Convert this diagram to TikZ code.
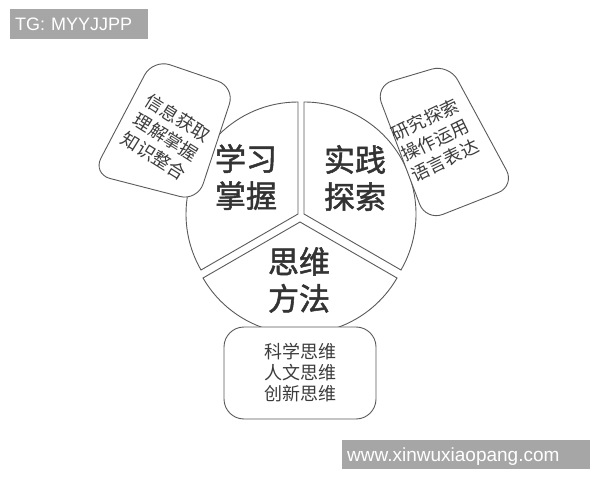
\documentclass[tikz,border=0pt]{standalone}
\usepackage{fontspec}
\setmainfont{Liberation Sans}
\newfontfamily\cjk{Noto Sans CJK SC}
\newfontfamily\cjkb[FakeBold=1.6]{Noto Sans CJK SC}
\definecolor{linegray}{HTML}{5A5A5A}
\definecolor{textdark}{HTML}{333333}
\definecolor{textmid}{HTML}{3C3C3C}
\definecolor{bannergray}{HTML}{A6A6A6}
\begin{document}
\begin{tikzpicture}[x=1pt,y=1pt,
  sector/.style={draw=linegray, line width=0.9pt, fill=white},
  sidebox/.style={draw=linegray, line width=0.9pt, fill=white, rounded corners=18pt},
  bigtxt/.style={font=\cjkb\fontsize{31}{37}\selectfont, text=textdark, align=center, inner sep=0pt},
  smalltxt/.style={font=\cjk\fontsize{18}{22.5}\selectfont, text=textmid, align=center, inner sep=0pt},
  banner/.style={fill=bannergray, text=white, align=left, inner ysep=0pt, inner xsep=5pt, anchor=south west}]
\useasboundingbox (0,0) rectangle (600,480);
% banners
\node (tg) [banner, font=\fontsize{18}{20}\selectfont, text height=13pt, text depth=0pt,
  minimum height=30pt, text width=128pt] at (10,441) {TG: MYYJJPP};
\node (www) [banner, font=\fontsize{19}{21}\selectfont, text height=13.6pt, text depth=0pt,
  minimum height=29pt, text width=238pt] at (342,11) {www.xinwuxiaopang.com};
% pie sectors
\draw[sector] (298,266) -- ++(90:112) arc[start angle=90, end angle=210, radius=112] -- cycle;
\draw[sector] (304,266) -- ++(-30:112) arc[start angle=-30, end angle=90, radius=112] -- cycle;
\draw[sector] (300,258) -- ++(210:112) arc[start angle=210, end angle=330, radius=112] -- cycle;
\node (xx) [bigtxt] at (246,303) {学习\\掌握};
\node (sj) [bigtxt] at (355,302) {实践\\探索};
\node (sw) [bigtxt] at (299,200) {思维\\方法};
% side boxes
\draw[sidebox] (153,421) -- (235,393) -- (197.5,279) -- (92.6,306) -- cycle;
\draw[sidebox] (375,394) -- (449,416) -- (515,294) -- (426,259) -- cycle;
\node (lt) [smalltxt, rotate=-32] at (166,343) {信息获取\\理解掌握\\知识整合};
\node (rt) [smalltxt, rotate=26] at (435,340) {研究探索\\操作运用\\语言表达};
% bottom box
\node (fb) [draw=linegray, line width=0.9pt, fill=white, rounded corners=20pt,
  minimum width=152pt, minimum height=92pt, font=\cjk\fontsize{18}{21}\selectfont,
  text=textmid, align=center] at (300,107) {科学思维\\人文思维\\创新思维};
\end{tikzpicture}
\end{document}
